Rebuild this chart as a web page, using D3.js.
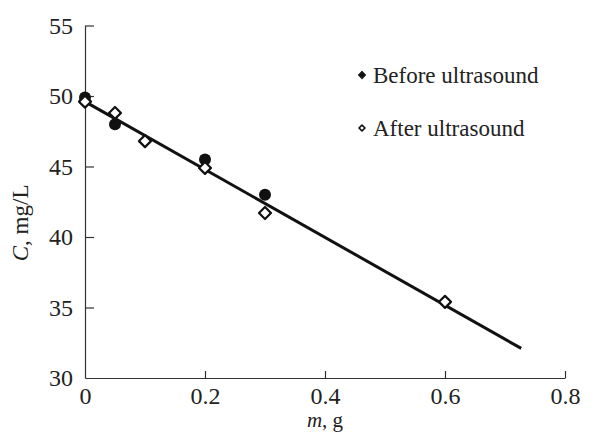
<!DOCTYPE html>
<html><head><meta charset="utf-8">
<script src="https://cdn.jsdelivr.net/npm/d3@7"></script>
<style>body{margin:0;background:#fff}svg{display:block}</style>
</head><body>
<script>
const beforeM = [0, 0.05, 0.2, 0.3];
const beforeC = [49.9, 48.0, 45.5, 43.0];
const afterM = [0, 0.05, 0.1, 0.2, 0.3, 0.6];
const afterC = [49.6, 48.8, 46.8, 44.9, 41.7, 35.4];
const fitM = [0, 0.727];
const fitC = [49.6, 32.1];
const xTicks = [0, 0.2, 0.4, 0.6, 0.8];
const yTicks = [30, 35, 40, 45, 50, 55];
const legendLabels = ["Before ultrasound", "After ultrasound"];

const W = 598, H = 433;
const svg = d3.select("body").append("svg").attr("width", W).attr("height", H);
const x = d3.scaleLinear().domain([0, 0.8]).range([85, 565]);
const y = d3.scaleLinear().domain([30, 55]).range([378, 25.5]);
const font = "'Liberation Serif','Times New Roman',serif";

const xa = svg.append("g").attr("transform", `translate(0,${y(30)})`)
  .call(d3.axisBottom(x).tickValues(xTicks).tickSizeInner(-7).tickSizeOuter(0).tickPadding(9).tickFormat(d => d === 0 ? "0" : d3.format(".1f")(d)));
const ya = svg.append("g").attr("transform", `translate(${x(0)},0)`)
  .call(d3.axisLeft(y).tickValues(yTicks).tickSizeInner(-9).tickSizeOuter(0).tickPadding(12));
[xa, ya].forEach(a => {
  a.select(".domain").attr("stroke", "#333").attr("stroke-width", 1.2);
  a.selectAll(".tick line").attr("stroke", "#333").attr("stroke-width", 1.2);
  a.selectAll("text").attr("font-family", font).attr("font-size", 24).attr("fill", "#222");
});
xa.selectAll(".tick line").filter(d => d === 0).remove();
ya.selectAll(".tick line").filter(d => d === 30).remove();

// fit line
svg.append("line")
  .attr("x1", x(fitM[0])).attr("y1", y(fitC[0]))
  .attr("x2", x(fitM[1])).attr("y2", y(fitC[1]))
  .attr("stroke", "#111").attr("stroke-width", 3);

// before markers
svg.append("g").selectAll("circle").data(beforeM).join("circle")
  .attr("cx", (d) => x(d)).attr("cy", (d, i) => y(beforeC[i])).attr("r", 6)
  .attr("fill", "#111");

// after markers (rounded diamonds)
const sq = d3.symbol().type(d3.symbolSquare).size(72);
svg.append("g").selectAll("path").data(afterM).join("path")
  .attr("d", sq)
  .attr("transform", (d, i) => `translate(${x(d)},${y(afterC[i])}) rotate(45)`)
  .attr("fill", "#fff").attr("stroke", "#111").attr("stroke-width", 2.2).attr("stroke-linejoin", "round");

// legend
const lg = svg.append("g");
const ly = [75, 128];
const sqs = d3.symbol().type(d3.symbolSquare).size(26);
lg.append("path").attr("d", sqs)
  .attr("transform", `translate(362,${ly[0]}) rotate(45)`).attr("fill", "#111").attr("stroke", "#111").attr("stroke-linejoin", "round");
lg.append("path").attr("d", d3.symbol().type(d3.symbolSquare).size(18))
  .attr("transform", `translate(362,${ly[1]}) rotate(45)`).attr("fill", "#fff").attr("stroke", "#111").attr("stroke-width", 1.6).attr("stroke-linejoin", "round");
legendLabels.forEach((t, i) => {
  lg.append("text").attr("x", 373).attr("y", ly[i] + 8).text(t)
    .attr("font-family", font).attr("font-size", 23).attr("fill", "#222");
});

// axis titles
const xt = svg.append("text").attr("x", x(0.4)).attr("y", 427).attr("text-anchor", "middle")
  .attr("font-family", font).attr("font-size", 21).attr("fill", "#222");
xt.append("tspan").attr("font-style", "italic").text("m");
xt.append("tspan").text(", g");
const yt = svg.append("text").attr("transform", `translate(28,${y(41)}) rotate(-90)`).attr("text-anchor", "middle")
  .attr("font-family", font).attr("font-size", 23).attr("fill", "#222");
yt.append("tspan").attr("font-style", "italic").text("C");
yt.append("tspan").text(", mg/L");
</script>
</body></html>
